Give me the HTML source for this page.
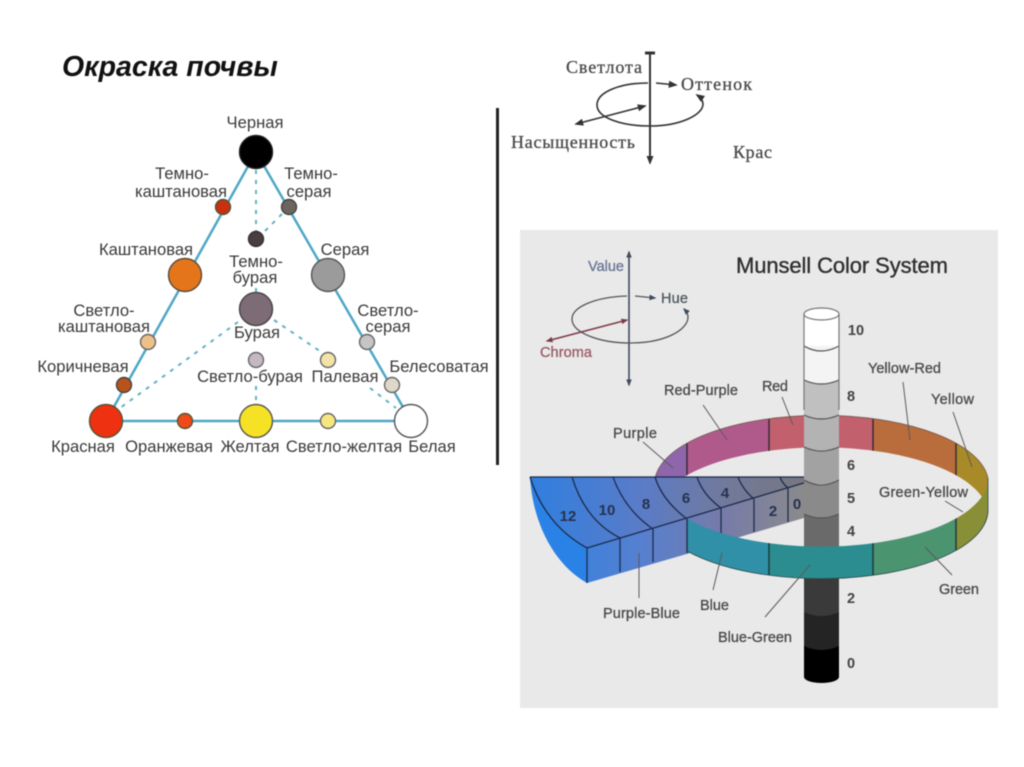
<!DOCTYPE html>
<html><head><meta charset="utf-8"><style>
html,body{margin:0;padding:0;background:#fff;width:1024px;height:767px;overflow:hidden}
svg{display:block;filter:blur(.55px)}
.t text{font-family:"Liberation Sans",sans-serif;font-size:16.6px;fill:#3a3a3a;text-anchor:middle}
.s text{font-family:"Liberation Serif",serif;font-size:18px;fill:#4a4a4a;stroke:#4a4a4a;stroke-width:.3}
.m text{font-family:"Liberation Sans",sans-serif;font-size:14.5px;fill:#4a4a4a;stroke:#4a4a4a;stroke-width:.3}
.n text{font-family:"Liberation Sans",sans-serif;font-size:14.5px;font-weight:bold;fill:#444;text-anchor:middle}
.w text{font-family:"Liberation Sans",sans-serif;font-size:15px;font-weight:bold;fill:#26324f;text-anchor:middle}
.c circle{stroke-width:1.4}
</style></head><body>
<svg width="1024" height="767" viewBox="0 0 1024 767" xmlns="http://www.w3.org/2000/svg">
<defs>
<linearGradient id="gt" gradientUnits="userSpaceOnUse" x1="530" y1="0" x2="807" y2="0"><stop offset="0" stop-color="#2f7fe0"/><stop offset=".4" stop-color="#5a7cc8"/><stop offset=".7" stop-color="#727a9c"/><stop offset="1" stop-color="#77777d"/></linearGradient>
<linearGradient id="gs" gradientUnits="userSpaceOnUse" x1="530" y1="0" x2="807" y2="0"><stop offset="0" stop-color="#2b82e6"/><stop offset=".4" stop-color="#5680d0"/><stop offset=".7" stop-color="#777ba8"/><stop offset="1" stop-color="#8b8b8b"/></linearGradient>
<clipPath id="far"><path d="M655,478.5A167,68.5 0 0 1 988,478.5L988,510.5A167,68.5 0 0 0 655,510.5Z"/></clipPath>
<clipPath id="near"><path d="M687,519A167,68.5 0 0 0 988,478.5L988,510.5A167,68.5 0 0 1 687,551Z"/></clipPath>
<clipPath id="col"><path d="M804,314A17.5,6 0 0 1 839,314L839,677A17.5,6 0 0 1 804,677Z"/></clipPath>
<marker id="a" viewBox="0 0 10 10" refX="8" refY="5" markerWidth="9" markerHeight="9" markerUnits="userSpaceOnUse" orient="auto-start-reverse"><path d="M0,1L10,5L0,9Z" fill="#333"/></marker>
<marker id="b" viewBox="0 0 10 10" refX="8" refY="5" markerWidth="7" markerHeight="7" markerUnits="userSpaceOnUse" orient="auto-start-reverse"><path d="M0,1L10,5L0,9Z" fill="#3f4a5c"/></marker>
<marker id="r" viewBox="0 0 10 10" refX="8" refY="5" markerWidth="7" markerHeight="7" markerUnits="userSpaceOnUse" orient="auto-start-reverse"><path d="M0,1L10,5L0,9Z" fill="#7d3a48"/></marker>
</defs>
<rect width="1024" height="767" fill="#fff"/>
<text x="62" y="76" font-family="Liberation Sans, sans-serif" font-size="28.5" font-weight="bold" font-style="italic" fill="#111">Окраска почвы</text>
<rect x="496" y="108" width="3" height="357" fill="#222"/>

<!-- triangle -->
<g fill="none" stroke="#4ea7c6" stroke-width="2.5"><path d="M256,152L106,421L411,421Z"/></g>
<g fill="none" stroke="#62b2c2" stroke-width="2" stroke-dasharray="4 6">
<path d="M256,170V232"/><path d="M282,214L262,234"/><path d="M256,288V294"/>
<path d="M238,322L120,408"/><path d="M274,320L330,358"/><path d="M370,388L396,408"/><path d="M256,386V404"/>
</g>
<g class="c">
<circle cx="256" cy="152" r="16.5" fill="#000" stroke="#222"/>
<circle cx="223" cy="207" r="7.5" fill="#c8300f" stroke="#553"/>
<circle cx="289" cy="207" r="7.5" fill="#6b655f" stroke="#444"/>
<circle cx="256" cy="239" r="7.5" fill="#4b3d40" stroke="#333"/>
<circle cx="185" cy="275" r="16.5" fill="#e4751b" stroke="#5a4a3a"/>
<circle cx="328" cy="275" r="16.5" fill="#9b9b9b" stroke="#555"/>
<circle cx="256" cy="309" r="16.5" fill="#7d6c76" stroke="#444"/>
<circle cx="148" cy="342" r="7.5" fill="#ecc088" stroke="#666"/>
<circle cx="367" cy="342" r="7.5" fill="#c7c4c6" stroke="#666"/>
<circle cx="256" cy="360" r="7.5" fill="#c5b9c1" stroke="#666"/>
<circle cx="328" cy="360" r="7.5" fill="#f3e3a6" stroke="#666"/>
<circle cx="124" cy="385" r="7.5" fill="#b9531c" stroke="#444"/>
<circle cx="392" cy="385" r="7.5" fill="#ddd8c8" stroke="#666"/>
<circle cx="106" cy="421" r="16.5" fill="#ee3110" stroke="#553"/>
<circle cx="185" cy="421" r="7.5" fill="#ef4a17" stroke="#553"/>
<circle cx="256" cy="421" r="16.5" fill="#f6e225" stroke="#555"/>
<circle cx="328" cy="421" r="7.5" fill="#f7e680" stroke="#666"/>
<circle cx="411" cy="421" r="16.5" fill="#fff" stroke="#555"/>
</g>
<g class="t">
<text x="255" y="128">Черная</text>
<text x="182" y="179">Темно-</text><text x="181" y="197">каштановая</text>
<text x="311" y="179">Темно-</text><text x="309" y="197">серая</text>
<text x="146" y="255">Каштановая</text><text x="345" y="255">Серая</text>
<text x="256" y="267">Темно-</text><text x="255" y="283">бурая</text>
<text x="104" y="316">Светло-</text><text x="104" y="332">каштановая</text>
<text x="388" y="316">Светло-</text><text x="388" y="332">серая</text>
<text x="257" y="338">Бурая</text>
<text x="83" y="372">Коричневая</text><text x="439" y="372">Белесоватая</text>
<text x="250" y="382">Светло-бурая</text><text x="345" y="382">Палевая</text>
<text x="83" y="452">Красная</text><text x="169" y="452">Оранжевая</text><text x="250" y="452">Желтая</text><text x="344" y="452">Светло-желтая</text><text x="432" y="452">Белая</text>
</g>

<!-- top axes -->
<g fill="none" stroke="#333">
<path d="M650,53V163" stroke-width="2" marker-end="url(#a)"/>
<path d="M645,53H655" stroke-width="3"/>
<path d="M648,83C620,83 597,92 597,105C597,118 622,126 650,126C680,126 703,115 703,104C703,100 700,97 697,95" stroke-width="1.6" marker-end="url(#a)"/>
<path d="M656,83L676,85" stroke-width="1.6" marker-end="url(#a)"/>
<path d="M576,124L645,106" stroke-width="1.6" marker-start="url(#a)" marker-end="url(#a)"/>
</g>
<g class="s">
<text x="566" y="73" textLength="76">Светлота</text>
<text x="681" y="90" textLength="71">Оттенок</text>
<text x="511" y="148" textLength="124">Насыщенность</text>
<text x="733" y="158" textLength="39">Крас</text>
</g>

<!-- Munsell panel -->
<rect x="520" y="230" width="478" height="478" fill="#e9e9e9"/>
<text x="736" y="273" font-family="Liberation Sans, sans-serif" font-size="22" fill="#2f2f2f" stroke="#2f2f2f" stroke-width=".35" textLength="212">Munsell Color System</text>
<g fill="none">
<path d="M629,385V252" stroke="#3f4a5c" stroke-width="1.6" marker-start="url(#b)" marker-end="url(#b)"/>
<path d="M627,296C595,297 572,307 572,319C572,333 600,343 630,343C665,343 688,330 688,317C688,314 686,311 684,309" stroke="#555" stroke-width="1.3" marker-end="url(#b)"/>
<path d="M635,296L655,298" stroke="#555" stroke-width="1.3" marker-end="url(#b)"/>
<path d="M627,320L547,341" stroke="#7d3a48" stroke-width="1.5" marker-start="url(#r)" marker-end="url(#r)"/>
</g>
<g class="m">
<text x="588" y="271" style="fill:#6a7594;stroke:#6a7594" textLength="36">Value</text>
<text x="661" y="303" style="fill:#4f5a60;stroke:#4f5a60" textLength="27">Hue</text>
<text x="540" y="357" style="fill:#9a5a68;stroke:#9a5a68" textLength="52">Chroma</text>
</g>

<!-- far ring band -->
<g clip-path="url(#far)">
<rect x="650" y="400" width="37" height="120" fill="#8f66ac"/>
<rect x="687" y="400" width="82" height="120" fill="#b05a8c"/>
<rect x="769" y="400" width="104" height="120" fill="#c2606e"/>
<rect x="873" y="400" width="83" height="120" fill="#b96c3c"/>
<rect x="956" y="400" width="35" height="120" fill="#a98a28"/>
<path d="M687,400V520M769,400V520M873,400V520M956,400V520" stroke="#3c2a35" stroke-width="1.5"/>
</g>
<path d="M655,478.5A167,68.5 0 0 1 988,478.5" fill="none" stroke="#7a5a50" stroke-width=".8"/>

<!-- wedge -->
<path d="M587,548L807,482V517L743,536L690,553L587,583Z" fill="url(#gs)"/>
<path d="M530,477Q545,525 587,548V583C555,565 533,525 530,477Z" fill="#2b82e6"/>
<path d="M530,477H807V482L587,548Q545,525 530,477Z" fill="url(#gt)"/>
<g fill="none" stroke="#1d2c4d" stroke-width="1.3">
<path d="M530,477H807"/>
<path d="M587,548L807,482"/>
<path d="M530,477Q545,525 587,548M572,477Q585,520 620,538M613,477Q625,510 653,529M655,477Q662,500 687,519M697,477Q703,495 721,508M738,477Q743,490 754,499M780,477Q782,483 788,488"/>
<path d="M587,548V583M620,538V572M653,529V562M687,519V553M721,508V542M754,499V532M788,488V522"/>
</g>
<g class="w">
<text x="568" y="521">12</text><text x="607" y="515">10</text><text x="646" y="509">8</text><text x="686" y="503">6</text><text x="725" y="498">4</text><text x="773" y="516">2</text><text x="797" y="509">0</text>
</g>

<!-- column -->
<g clip-path="url(#col)">
<rect x="804" y="300" width="35" height="52" fill="#fff"/>
<rect x="804" y="346" width="35" height="39" fill="#f4f4f4"/>
<path d="M804,380Q821,388 839,380V420H804Z" fill="#c0c0c0"/>
<path d="M804,415Q821,423 839,415V450H804Z" fill="#b3b3b3"/>
<path d="M804,447Q821,455 839,447V484H804Z" fill="#a2a2a2"/>
<path d="M804,480Q821,490 839,480V518H804Z" fill="#8a8a8a"/>
<path d="M804,514Q821,522 839,514V560H804Z" fill="#6a6a6a"/>
<rect x="804" y="560" width="35" height="60" fill="#3a3a3a"/>
<path d="M804,612Q821,620 839,612V650H804Z" fill="#242424"/>
<path d="M804,646Q821,654 839,646V690H804Z" fill="#000"/>
<g fill="none" stroke="#555" stroke-width="1.2">
<path d="M804,346Q821,356 839,346M804,380Q821,388 839,380M804,415Q821,423 839,415M804,447Q821,455 839,447M804,480Q821,490 839,480M804,514Q821,522 839,514"/>
</g>
</g>
<path d="M804,314V410M839,314V410" stroke="#777" stroke-width="1.2" fill="none"/>
<ellipse cx="821.5" cy="314" rx="17.5" ry="6" fill="#fff" stroke="#777" stroke-width="1.2"/>

<!-- near ring band -->
<g clip-path="url(#near)">
<rect x="680" y="470" width="89" height="120" fill="#2f90a8"/>
<rect x="769" y="470" width="104" height="120" fill="#2b8d90"/>
<rect x="873" y="470" width="83" height="120" fill="#4b9470"/>
<rect x="956" y="470" width="35" height="120" fill="#888f36"/>
<path d="M687,470V590M769,470V590M873,470V590M956,470V590" stroke="#1f3a3a" stroke-width="1.5"/>
</g>
<path d="M687,551A167,68.5 0 0 0 988,510.5V478.5" fill="none" stroke="#2a4a4a" stroke-width=".8"/>

<!-- leaders -->
<g stroke="#5a5a5a" stroke-width="1" fill="none">
<path d="M703,405L727,440M782,397L793,425M903,382L910,440M953,412L972,467M643,442L673,468M945,501L963,512M925,547L952,575M722,553L713,590M810,565L765,617M639,553V598"/>
</g>
<g class="m">
<text x="664" y="395" textLength="74">Red-Purple</text>
<text x="762" y="391" textLength="26">Red</text>
<text x="868" y="373" textLength="73">Yellow-Red</text>
<text x="931" y="404" textLength="43">Yellow</text>
<text x="613" y="438" textLength="44">Purple</text>
<text x="879" y="497" textLength="89">Green-Yellow</text>
<text x="939" y="594" textLength="40">Green</text>
<text x="700" y="610" textLength="29">Blue</text>
<text x="603" y="618" textLength="77">Purple-Blue</text>
<text x="718" y="642" textLength="74">Blue-Green</text>
</g>
<g class="n">
<text x="856" y="335">10</text><text x="851" y="401">8</text><text x="851" y="470">6</text><text x="851" y="503">5</text><text x="851" y="536">4</text><text x="851" y="603">2</text><text x="851" y="668">0</text>
</g>
</svg>
</body></html>
